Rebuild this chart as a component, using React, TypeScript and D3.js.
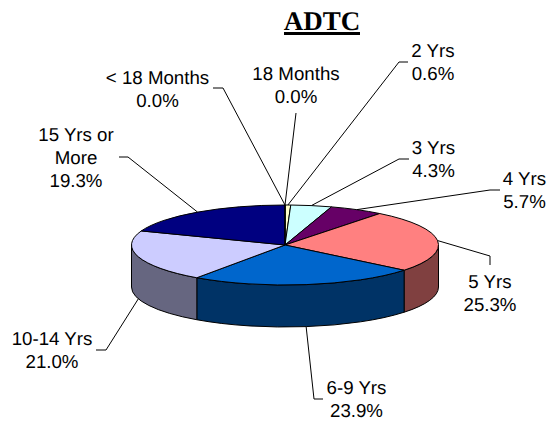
import React from "react";
import * as d3 from "d3";

const categories = ["18 Months", "2 Yrs", "3 Yrs", "4 Yrs", "5 Yrs", "6-9 Yrs", "10-14 Yrs", "15 Yrs or More", "< 18 Months"];
const shares = [0.0, 0.6, 4.3, 5.7, 25.3, 23.9, 21.0, 19.3, 0.0];
const topColors = ["#CCFFCC", "#FFFFCC", "#CCFFFF", "#660066", "#FF8080", "#0066CC", "#CCCCFF", "#000080", "#993366"];
const wallColors = ["#668066", "#808066", "#668080", "#330033", "#804040", "#003366", "#666680", "#000040", "#4d1a33"];

// where each label sits: text centre, first baseline, and the elbow + end of its leader
const labelLayout = [
  { lines: ["18 Months"], x: 296, y: 80, elbow: [296, 113], tail: null },
  { lines: ["2 Yrs"], x: 433, y: 57, elbow: [399, 62], tail: [408, 62] },
  { lines: ["3 Yrs"], x: 433.5, y: 154, elbow: [399, 159], tail: [409, 159] },
  { lines: ["4 Yrs"], x: 524.5, y: 185, elbow: [490, 190], tail: [500, 190] },
  { lines: ["5 Yrs"], x: 490, y: 288, elbow: [490, 256], tail: [490, 265] },
  { lines: ["6-9 Yrs"], x: 356.5, y: 394, elbow: [314, 399], tail: [323, 399] },
  { lines: ["10-14 Yrs"], x: 52, y: 345, elbow: [106, 350], tail: [96, 350] },
  { lines: ["15 Yrs or", "More"], x: 76, y: 141, elbow: [128, 157], tail: [119, 157] },
  { lines: ["< 18 Months"], x: 157.5, y: 84, elbow: [223, 88], tail: [213, 88] },
];

const width = 549;
const height = 421;
const cx = 285;
const cy = 245;
const rx = 153.5;
const ry = 40;
const depth = 42;
const lineHeight = 23;

const pieLayout = d3
  .pie<number>()
  .sort(null)
  .value((d) => d)
  .startAngle(0)
  .endAngle(2 * Math.PI);

const arcTop = d3.arc<d3.PieArcDatum<number>>().innerRadius(0).outerRadius(rx);

const rimX = (a: number) => cx + rx * Math.sin(a);
const rimY = (a: number) => cy - ry * Math.cos(a);

// side wall of a slice, only the part on the front half of the ellipse
const wallPath = (start: number, end: number) => {
  const a0 = Math.max(start, Math.PI / 2);
  const a1 = Math.min(end, (3 * Math.PI) / 2);
  if (a1 <= a0) return null;
  return (
    `M${rimX(a0)},${rimY(a0)}` +
    `A${rx},${ry} 0 0 1 ${rimX(a1)},${rimY(a1)}` +
    `L${rimX(a1)},${rimY(a1) + depth}` +
    `A${rx},${ry} 0 0 0 ${rimX(a0)},${rimY(a0) + depth}Z`
  );
};

// front-half leaders start at the bottom of the wall
const leaderStart = (a: number): [number, number] => {
  const front = a > Math.PI / 2 && a < (3 * Math.PI) / 2;
  return [rimX(a), rimY(a) + (front ? depth : 0)];
};

const leaderLine = d3.line();

const App = () => {
  const slices = pieLayout(shares);

  return (
    <svg
      width={width}
      height={height}
      style={{ position: "absolute", left: 0, top: 0, background: "#fff" }}
    >
      <text
        x={322}
        y={30}
        textAnchor="middle"
        fontFamily="'Liberation Serif', 'DejaVu Serif', serif"
        fontWeight="bold"
        fontSize={27}
        textRendering="geometricPrecision"
      >
        ADTC
      </text>
      <line x1={284} x2={360} y1={33.5} y2={33.5} stroke="#000" strokeWidth={3} />

      {slices.map((s, i) => {
        const d = wallPath(s.startAngle, s.endAngle);
        return d ? <path key={i} d={d} fill={wallColors[i]} stroke="#000" strokeWidth={1} /> : null;
      })}

      <g transform={`translate(${cx},${cy}) scale(1,${ry / rx})`}>
        {slices.map((s, i) => (
          <path
            key={i}
            d={arcTop(s) ?? ""}
            fill={topColors[i]}
            stroke="#000"
            strokeWidth={1}
            vectorEffect="non-scaling-stroke"
          />
        ))}
      </g>

      {slices.map((s, i) => {
        const layout = labelLayout[i];
        const pts = [leaderStart((s.startAngle + s.endAngle) / 2), layout.elbow, layout.tail].filter(
          Boolean
        ) as [number, number][];
        return <path key={i} d={leaderLine(pts) ?? ""} fill="none" stroke="#000" strokeWidth={1} />;
      })}

      <g
        fontFamily="'Liberation Sans', Arial, sans-serif"
        fontSize={18.7}
        textAnchor="middle"
        fill="#000"
        textRendering="geometricPrecision"
      >
        {slices.map((s, i) => {
          const layout = labelLayout[i];
          const rows = [...layout.lines, `${d3.format(".1f")(shares[i])}%`];
          return (
            <text key={i} x={layout.x} y={layout.y}>
              {rows.map((row, j) => (
                <tspan key={j} x={layout.x} y={layout.y + j * lineHeight}>
                  {row}
                </tspan>
              ))}
            </text>
          );
        })}
      </g>
    </svg>
  );
};

export default App;
